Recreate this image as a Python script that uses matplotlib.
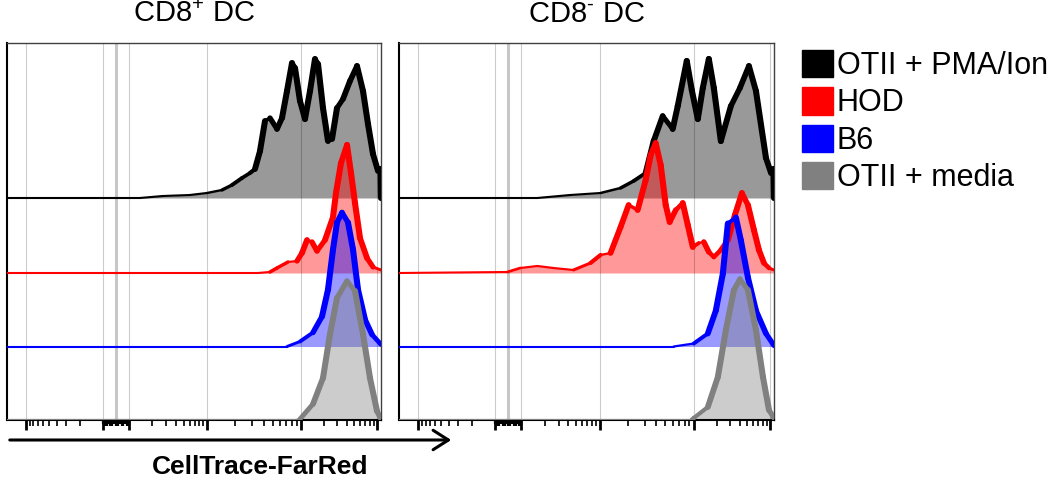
import numpy as np
import matplotlib
matplotlib.use("Agg")
import matplotlib.pyplot as plt
from matplotlib.collections import LineCollection
from matplotlib.patches import Patch, FancyArrowPatch

plt.rcParams['font.family'] = ['Liberation Sans', 'DejaVu Sans']
plt.rcParams['mathtext.fontset'] = 'custom'
plt.rcParams['mathtext.rm'] = 'Liberation Sans'
plt.rcParams['mathtext.it'] = 'Liberation Sans'

# x in display channels (0..374 across a panel), heights in the same units
# ---- CD8+ DC ----
p1_black_x = [0, 133, 156, 183, 200, 215, 225, 235, 243, 248, 253, 258, 263, 270, 275, 280, 285, 288,
              293, 298, 303, 308, 311, 316, 321, 325, 330, 336, 343, 350, 356, 361, 366, 371, 373.5, 374]
p1_black_y = [0, 0, 2, 3, 5, 8, 13, 20, 25, 29, 47, 77, 80, 69, 80, 107, 135, 130,
              97, 79, 107, 139, 134, 90, 57, 59, 90, 99, 117, 132, 107, 74, 44, 27, 29, 0]
p1_red_x = [0, 251, 263, 270, 281, 290, 295, 300, 305, 310, 318, 326, 329, 334, 340, 344, 348, 353, 360, 366, 374]
p1_red_y = [0, 0, 1, 5, 11, 12, 20, 33, 31, 22, 33, 56, 80, 110, 128, 100, 70, 35, 15, 6, 3]
p1_blue_x = [0, 280, 293, 306, 315, 321, 326, 330, 335, 341, 346, 351, 358, 365, 374]
p1_blue_y = [0, 0, 5, 14, 30, 57, 97, 124, 134, 124, 97, 57, 27, 12, 2]
p1_grey_x = [0, 290, 293, 306, 316, 323, 330, 340, 348, 356, 363, 370, 374]
p1_grey_y = [0, 0, 1, 16, 42, 86, 122, 139, 129, 86, 42, 9, 1]

# ---- CD8- DC ----
p2_black_x = [0, 138, 171, 201, 221, 234, 246, 254, 263, 273, 278, 287, 292, 298, 303, 309, 314,
              321, 331, 340, 349, 356, 366, 371, 373.5, 374]
p2_black_y = [0, 0, 3, 5, 10, 17, 25, 57, 82, 69, 92, 137, 108, 79, 110, 139, 110,
              57, 92, 110, 132, 107, 40, 25, 29, 0]
p2_red_x = [0, 108, 121, 138, 154, 174, 191, 201, 211, 221, 229, 238, 246, 251, 256, 261, 266, 270,
            276, 283, 288, 293, 299, 304, 309, 314, 321, 328, 335, 342, 348, 354, 359, 364, 369, 374]
p2_red_y = [0, 1, 5, 7, 5, 3, 10, 18, 20, 46, 68, 63, 93, 118, 130, 108, 68, 51,
            63, 70, 48, 26, 30, 31, 21, 16, 23, 33, 58, 80, 68, 43, 23, 10, 5, 3]
p2_blue_x = [0, 274, 294, 308, 316, 323, 328, 336, 341, 348, 356, 366, 374]
p2_blue_y = [0, 0, 3, 13, 36, 73, 123, 129, 106, 69, 36, 13, 1]
p2_grey_x = [0, 292, 294, 308, 318, 326, 334, 340, 348, 356, 363, 369, 374]
p2_grey_y = [0, 0, 2, 13, 43, 90, 130, 141, 130, 90, 43, 10, 2]

labels = ['OTII + PMA/Ion', 'HOD', 'B6', 'OTII + media']
colors = ['#000000', '#ff0000', '#0000ff', '#808080']
offsets = [222, 147, 73.5, 0]
titles = ['CD8$^{+}$ DC', 'CD8$^{\\text{-}}$ DC']

grid_pos = [19, 96, 122, 200, 294, 370]
zero_pos = 109
major_ticks = [19, 96, 122, 200, 294, 370]


def log_minors():
    k = np.log10(np.arange(2, 10))
    t = list(96 - 77 * k)
    t += list(122 + 78 * k) + list(200 + 94 * k) + list(294 + 76 * k)
    return t


def draw_curve(ax, x, h, base, color, z):
    x = np.asarray(x, float)
    y = base + np.asarray(h, float)
    ax.fill_between(x, base, y, color=color, alpha=0.4, lw=0, zorder=1 + z * 0.01)
    segs = np.stack([np.column_stack([x[:-1], y[:-1]]), np.column_stack([x[1:], y[1:]])], axis=1)
    d = np.diff(np.column_stack([x, y]), axis=0)
    ang = np.arctan2(d[:, 1], d[:, 0])
    w = np.sqrt((1.5 * np.cos(ang)) ** 2 + (4.4 * np.sin(ang)) ** 2)
    lc = LineCollection(segs, linewidths=w, colors=color, capstyle='round',
                        joinstyle='round', zorder=3 + z * 0.01)
    ax.add_collection(lc)


fig = plt.figure(figsize=(10.5, 4.78), dpi=100)
ax1 = fig.add_axes([7 / 1050, 58 / 478, 374 / 1050, 377 / 478])
ax2 = fig.add_axes([399 / 1050, 58 / 478, 375 / 1050, 377 / 478])

panels = [
    (ax1, [(p1_black_x, p1_black_y), (p1_red_x, p1_red_y), (p1_blue_x, p1_blue_y), (p1_grey_x, p1_grey_y)]),
    (ax2, [(p2_black_x, p2_black_y), (p2_red_x, p2_red_y), (p2_blue_x, p2_blue_y), (p2_grey_x, p2_grey_y)]),
]

for i, (ax, series) in enumerate(panels):
    ax.set_xlim(0, 374)
    ax.set_ylim(0, 377)
    for j, (sx, sy) in enumerate(series):
        draw_curve(ax, sx, sy, offsets[j], colors[j], j)
    for g in grid_pos:
        ax.axvline(g, color='black', alpha=0.2, lw=0.8, zorder=2)
    ax.axvline(zero_pos, color='black', alpha=0.22, lw=2.2, zorder=2)
    ax.set_yticks([])
    ax.set_xticks(major_ticks)
    ax.set_xticks(log_minors(), minor=True)
    ax.set_xticklabels([])
    ax.tick_params(axis='x', which='major', direction='out', length=7, width=2, color='black')
    ax.tick_params(axis='x', which='minor', direction='out', length=4, width=1.2, color='black')
    # dense linear ticks around zero
    for n, xt in enumerate(np.linspace(96, 122, 15)):
        ax.plot([xt, xt], [0, -0.016 if n % 3 else -0.011], transform=ax.get_xaxis_transform(),
                color='black', lw=1.6, clip_on=False, solid_capstyle='butt')
    for s in ['left', 'bottom']:
        ax.spines[s].set_linewidth(1.5)
        ax.spines[s].set_color('black')
    for s in ['top', 'right']:
        ax.spines[s].set_linewidth(1.0)
        ax.spines[s].set_color('#404040')
    ax.set_title(titles[i], fontsize=21, pad=15)

handles = [Patch(facecolor=c, edgecolor=c) for c in colors]
fig.legend(handles, labels, loc='upper left', bbox_to_anchor=(802 / 1050, 1 - 50 / 478),
           frameon=False, fontsize=22, handlelength=1.0, handleheight=1.0,
           handletextpad=0.13, labelspacing=0.2, borderpad=0, borderaxespad=0)

arrow = FancyArrowPatch((7 / 1050, 1 - 440 / 478), (454 / 1050, 1 - 440 / 478),
                        transform=fig.transFigure, arrowstyle='->,head_length=0.55,head_width=0.35',
                        mutation_scale=20, lw=2.2, color='black')
fig.add_artist(arrow)
fig.text(260 / 1050, 1 - 467 / 478, 'CellTrace-FarRed', fontsize=19, fontweight='bold',
         ha='center', va='center')

fig.savefig('out.png', dpi=100)
